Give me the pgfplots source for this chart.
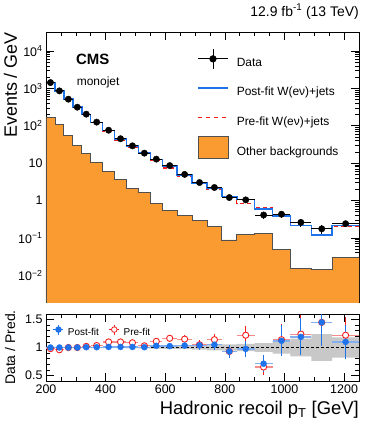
\documentclass[border=0pt]{standalone}
\usepackage{fontspec}
\setmainfont{Liberation Sans}
\usepackage{pgfplots}
\usepackage{pgfplotstable}
\pgfplotsset{compat=1.18}

\definecolor{bkgorange}{RGB}{250,155,50}
\definecolor{bkgline}{RGB}{80,80,80}
\definecolor{postblue}{RGB}{30,115,235}
\definecolor{lightblue}{RGB}{130,175,240}
\definecolor{prered}{RGB}{245,30,30}
\definecolor{lightred}{RGB}{245,140,140}
\definecolor{bandgray}{RGB}{200,200,200}

% step histograms: lower bin edge, post-fit and pre-fit prediction
\pgfplotstableread{
edge post pre
200 1430 1459
230 857 893
260 514 514
290 314 314
320 203 200
350 124 121
390 75 69
430 44.5 40.9
470 28.7 26.7
510 18.4 18.0
550 12.4 11.5
590 8.4 7.4
640 4.82 4.35
690 2.91 2.89
740 2.12 1.96
790 1.29 1.29
840 1.07 0.85
900 0.585 0.63
960 0.384 0.377
1020 0.218 0.21
1090 0.121 0.121
1160 0.218 0.197
1250 0.218 0.197
}\steps

% other backgrounds, closed down below the axis floor
\pgfplotstableread{
edge bkg
200 0.0001
200 170
230 108
260 55
290 29
320 18.5
350 10.6
390 6.0
430 3.7
470 2.06
510 1.68
550 0.83
590 0.54
640 0.40
690 0.30
740 0.20
790 0.088
840 0.124
900 0.128
960 0.050
1020 0.0155
1090 0.0145
1160 0.030
1250 0.030
1250 0.0001
}\bkg

% data points and ratios
\pgfplotstableread{
x xe data derr rpost epost rpre epre
215 15 1430 7.2 1.00 0.01 0.98 0.01
245 15 857 5.1 1.00 0.01 0.96 0.01
275 15 514 4.1 1.00 0.01 1.00 0.01
305 15 314 3.1 1.00 0.012 1.00 0.012
335 15 204 2.6 1.005 0.013 1.02 0.013
370 20 125 1.8 1.005 0.015 1.035 0.015
410 20 76 1.37 1.01 0.018 1.10 0.02
450 20 45 1.08 1.01 0.024 1.10 0.026
490 20 29 0.84 1.01 0.03 1.085 0.032
530 20 18.5 0.68 1.005 0.037 1.03 0.038
570 20 12.8 0.56 1.03 0.045 1.11 0.05
615 25 8.6 0.41 1.025 0.05 1.165 0.056
665 25 5.0 0.32 1.035 0.065 1.15 0.072
715 25 3.03 0.24 1.04 0.08 1.05 0.08
765 25 2.23 0.21 1.05 0.09 1.14 0.1
815 25 1.20 0.156 0.93 0.11 0.93 0.11
870 30 1.04 0.13 0.975 0.15 1.22 0.17
930 30 0.41 0.082 0.71 0.15 0.65 0.14
990 30 0.43 0.086 1.12 0.28 1.14 0.28
1055 35 0.26 0.062 1.19 0.33 1.24 0.34
1125 35 0.175 0.051 1.45 0.42 1.45 0.42
1205 45 0.24 0.05 1.10 0.30 1.22 0.33
}\points

\begin{document}
\begin{tikzpicture}
\useasboundingbox (-46bp,-129bp) rectangle (336bp,302bp);
\pgfplotsset{
  every axis/.append style={
    scale only axis, width=313bp,
    xmin=200, xmax=1250,
    axis line style={line width=0.8bp},
    tick style={black, line width=0.6bp},
    major tick length=8bp, minor tick length=4bp,
    tick label style={font=\fontsize{12.5}{15}\selectfont},
    /pgf/number format/assume math mode=true,
    /pgf/number format/1000 sep={},
    xtick={200,400,...,1200}, minor x tick num=3,
  },
}
\begin{axis}[
  at={(0,0)}, anchor=south west, height=270bp,
  ymode=log, ymin=1.93e-3, ymax=3.22e4,
  ytick={0.01,0.1,1,10,100,1000,10000},
  yticklabels={10\textsuperscript{−2},10\textsuperscript{−1},1,10,10\textsuperscript{2},10\textsuperscript{3},10\textsuperscript{4}},
  xticklabels={},
  ylabel={Events / GeV},
  ylabel style={at={(axis description cs:-0.0927,1)}, anchor=base east, inner sep=0pt, font=\fontsize{18}{20}\selectfont},
  title={12.9 fb\textsuperscript{-1} (13 TeV)},
  title style={at={(axis description cs:1,1)}, anchor=base east, yshift=10bp, inner sep=0pt, font=\fontsize{14}{16}\selectfont},
  legend cell align=left,
  legend style={at={(axis description cs:0.4824,0.942)}, anchor=north west, draw=none, fill=none,
    inner sep=0pt, row sep=7.4bp, column sep=6bp, font=\fontsize{12}{14}\selectfont},
]
\addplot[const plot, fill=bkgorange, draw=bkgline, line width=0.8bp, forget plot]
  table[x=edge, y=bkg] {\bkg} -- cycle;
\addplot[const plot, prered, line width=1.2bp, dash pattern=on 4bp off 3bp, forget plot]
  table[x=edge, y=pre] {\steps};
\addplot[const plot, postblue, line width=1.5bp, forget plot]
  table[x=edge, y=post] {\steps};
\addplot[only marks, mark=*, mark size=3.2bp, black, forget plot,
  error bars/.cd, x dir=both, x explicit, y dir=both, y explicit,
  error mark=none, error bar style={black, line width=0.8bp}]
  table[x=x, y=data, x error=xe, y error=derr] {\points};

\node[anchor=base west, inner sep=0pt, font=\bfseries\fontsize{15}{17}\selectfont] at (axis description cs:0.0958,0.881) {CMS};
\node[anchor=base west, inner sep=0pt, font=\fontsize{12}{14}\selectfont] at (axis description cs:0.098,0.8) {monojet};

\addlegendimage{black, line width=0.8bp, legend image code/.code={
  \path[draw=none, fill=none] (0bp,-7bp) rectangle (30bp,15bp);
  \draw (0bp,4bp) -- (30bp,4bp) (15bp,-6bp) -- (15bp,14bp);
  \fill (15bp,4bp) circle (3.2bp);}}
\addlegendentry{Data}
\addlegendimage{color=postblue, line width=1.6bp, legend image code/.code={
  \path[draw=none, fill=none] (0bp,-7bp) rectangle (30bp,15bp);
  \draw (0bp,4bp) -- (30bp,4bp);}}
\addlegendentry{Post-fit W(eν)+jets}
\addlegendimage{color=prered, line width=1.5bp, dash pattern=on 4.5bp off 3.5bp, legend image code/.code={
  \path[draw=none, fill=none] (0bp,-7bp) rectangle (30bp,15bp);
  \draw (0bp,4bp) -- (30bp,4bp);}}
\addlegendentry{Pre-fit W(eν)+jets}
\addlegendimage{fill=bkgorange, draw=bkgline, line width=0.8bp, legend image code/.code={
  \draw (0bp,-7bp) rectangle (30bp,15bp);}}
\addlegendentry{Other backgrounds}
\end{axis}

\begin{axis}[
  at={(0,-79bp)}, anchor=south west, height=67bp,
  ymin=0.4, ymax=1.6, ytick={0.5,1,1.5}, minor y tick num=4,
  xlabel={Hadronic recoil p\textsubscript{T} [GeV]},
  xlabel style={at={(axis description cs:1,-0.507)}, anchor=base east, inner sep=0pt, font=\fontsize{18.5}{20}\selectfont},
  ylabel={Data / Pred.},
  ylabel style={at={(axis description cs:-0.099,0.5)}, anchor=base, inner sep=0pt, font=\fontsize{14}{16}\selectfont},
  legend columns=2,
  legend style={at={(axis description cs:0.022,0.75)}, anchor=west, draw=none, fill=none, inner sep=0pt,
    font=\fontsize{10}{12}\selectfont,
    /tikz/every odd column/.append style={column sep=2bp},
    /tikz/every even column/.append style={column sep=8bp}},
]
% uncertainty band
\addplot[fill=bandgray, draw=none, forget plot] coordinates {
  (200,1.01)(390,1.01)(390,1.012)(470,1.012)(470,1.015)(550,1.015)(550,1.02)(590,1.02)
  (590,1.025)(640,1.025)(640,1.03)(690,1.03)(690,1.04)(740,1.04)(740,1.05)(790,1.05)
  (790,1.055)(840,1.055)(840,1.065)(900,1.065)(900,1.08)(960,1.08)(960,1.11)(1020,1.11)
  (1020,1.16)(1090,1.16)(1090,1.24)(1160,1.24)(1160,1.18)(1250,1.18)
  (1250,0.82)(1160,0.82)(1160,0.76)(1090,0.76)(1090,0.84)(1020,0.84)(1020,0.89)(960,0.89)
  (960,0.92)(900,0.92)(900,0.935)(840,0.935)(840,0.945)(790,0.945)(790,0.95)(740,0.95)
  (740,0.96)(690,0.96)(690,0.97)(640,0.97)(640,0.975)(590,0.975)(590,0.98)(550,0.98)
  (550,0.985)(470,0.985)(470,0.988)(390,0.988)(390,0.99)(200,0.99)} -- cycle;
\addplot[black, line width=1.1bp, dash pattern=on 3bp off 2bp, forget plot] coordinates {(200,1) (1250,1)};

% pre-fit
\addplot[only marks, mark=*, mark size=0.01bp, lightred, forget plot,
  error bars/.cd, x dir=both, x explicit, error mark=none, error bar style={lightred, line width=1.2bp}]
  table[x=x, y=rpre, x error=xe] {\points};
\addplot[only marks, mark=*, mark size=3.1bp, mark options={fill=white, draw=prered, line width=0.9bp}, forget plot,
  error bars/.cd, y dir=both, y explicit, error mark=none, error bar style={prered, line width=0.8bp}]
  table[x=x, y=rpre, y error=epre] {\points};
% post-fit
\addplot[only marks, mark=*, mark size=0.01bp, lightblue, forget plot,
  error bars/.cd, x dir=both, x explicit, error mark=none, error bar style={lightblue, line width=1.4bp}]
  table[x=x, y=rpost, x error=xe] {\points};
\addplot[only marks, mark=*, mark size=3bp, mark options={fill=postblue, draw=postblue}, forget plot,
  error bars/.cd, y dir=both, y explicit, error mark=none, error bar style={postblue, line width=0.8bp}]
  table[x=x, y=rpost, y error=epost] {\points};

\addlegendimage{color=postblue, line width=0.8bp, legend image code/.code={
  \path[draw=none, fill=none] (0bp,-4bp) rectangle (10bp,10bp);
  \draw (0bp,3bp) -- (10bp,3bp) (5bp,-2bp) -- (5bp,8bp);
  \fill (5bp,3bp) circle (2.8bp);}}
\addlegendentry{Post-fit}
\addlegendimage{color=prered, line width=0.8bp, legend image code/.code={
  \path[draw=none, fill=none] (0bp,-4bp) rectangle (10bp,10bp);
  \draw (0bp,3bp) -- (10bp,3bp) (5bp,-2bp) -- (5bp,8bp);
  \draw[fill=white] (5bp,3bp) circle (2.8bp);}}
\addlegendentry{Pre-fit}
\end{axis}
\end{tikzpicture}
\end{document}
